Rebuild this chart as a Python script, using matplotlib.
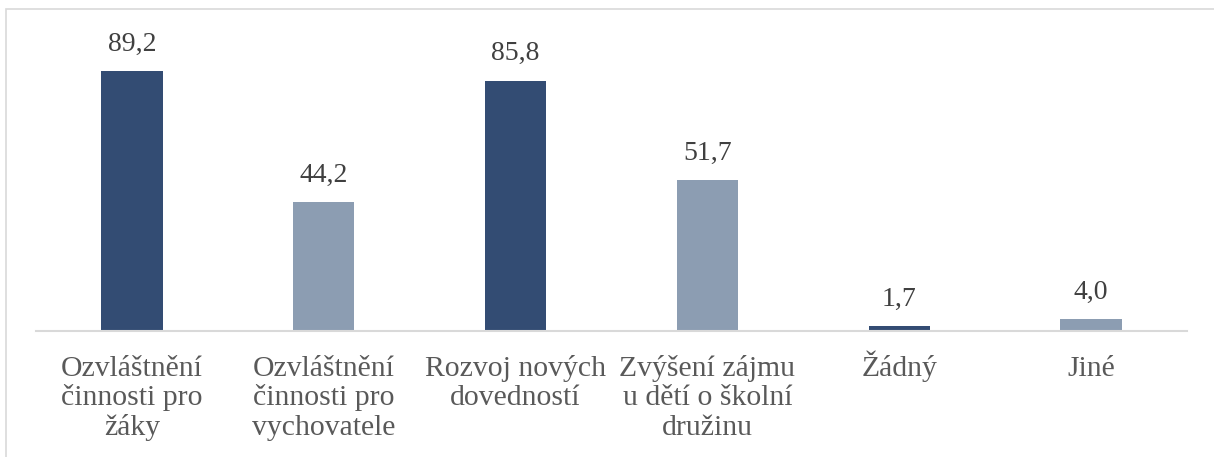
import numpy as np
import matplotlib
matplotlib.use("Agg")
import matplotlib.pyplot as plt
from matplotlib.patches import Rectangle

# data
categories = ["Ozvláštnění\nčinnosti pro\nžáky",
              "Ozvláštnění\nčinnosti pro\nvychovatele",
              "Rozvoj nových\ndovedností",
              "Zvýšení zájmu\nu dětí o školní\ndružinu",
              "Žádný",
              "Jiné"]
values = [89.2, 44.2, 85.8, 51.7, 1.7, 4.0]
bar_colors = ["#334C73", "#8C9DB2", "#334C73", "#8C9DB2", "#334C73", "#8C9DB2"]

plt.rcParams['font.family'] = ['Liberation Serif', 'DejaVu Serif']

fig = plt.figure(figsize=(12.14, 4.57), dpi=100)
fig.patch.set_facecolor("white")

# outer chart border
fig.patches.append(Rectangle((6 / 1214, -0.05), 1.2, 1 - 9 / 457 + 0.05,
                             transform=fig.transFigure, fill=False,
                             edgecolor="#D9D9D9", linewidth=1.2))

ax = fig.add_axes([36 / 1214, 1 - 331 / 457, 1151 / 1214, 291.5 / 457])
x = np.arange(len(categories))
bars = ax.bar(x, values, width=0.32, color=bar_colors)

for xi, v in zip(x, values):
    ax.text(xi, v + 5.0, f"{v:.1f}".replace(".", ","), ha="center", va="bottom",
            fontsize=20, color="#404040")

# category labels, line by line on fixed baselines
for xi, lab in zip(x, categories):
    for i, line in enumerate(lab.split("\n")):
        ax.annotate(line, xy=(xi, 0), xycoords=("data", "axes fraction"),
                    xytext=(0, -32.4 - 21.2 * i), textcoords="offset points",
                    ha="center", va="baseline", fontsize=21.4, color="#595959",
                    annotation_clip=False)

ax.set_xlim(-0.5, len(categories) - 0.5)
ax.set_ylim(0, 100)
ax.set_yticks([])
ax.set_xticks([])
for s in ["top", "right", "left"]:
    ax.spines[s].set_visible(False)
ax.spines["bottom"].set_color("#D9D9D9")
ax.spines["bottom"].set_linewidth(1.5)

fig.savefig("out.png", dpi=100)
